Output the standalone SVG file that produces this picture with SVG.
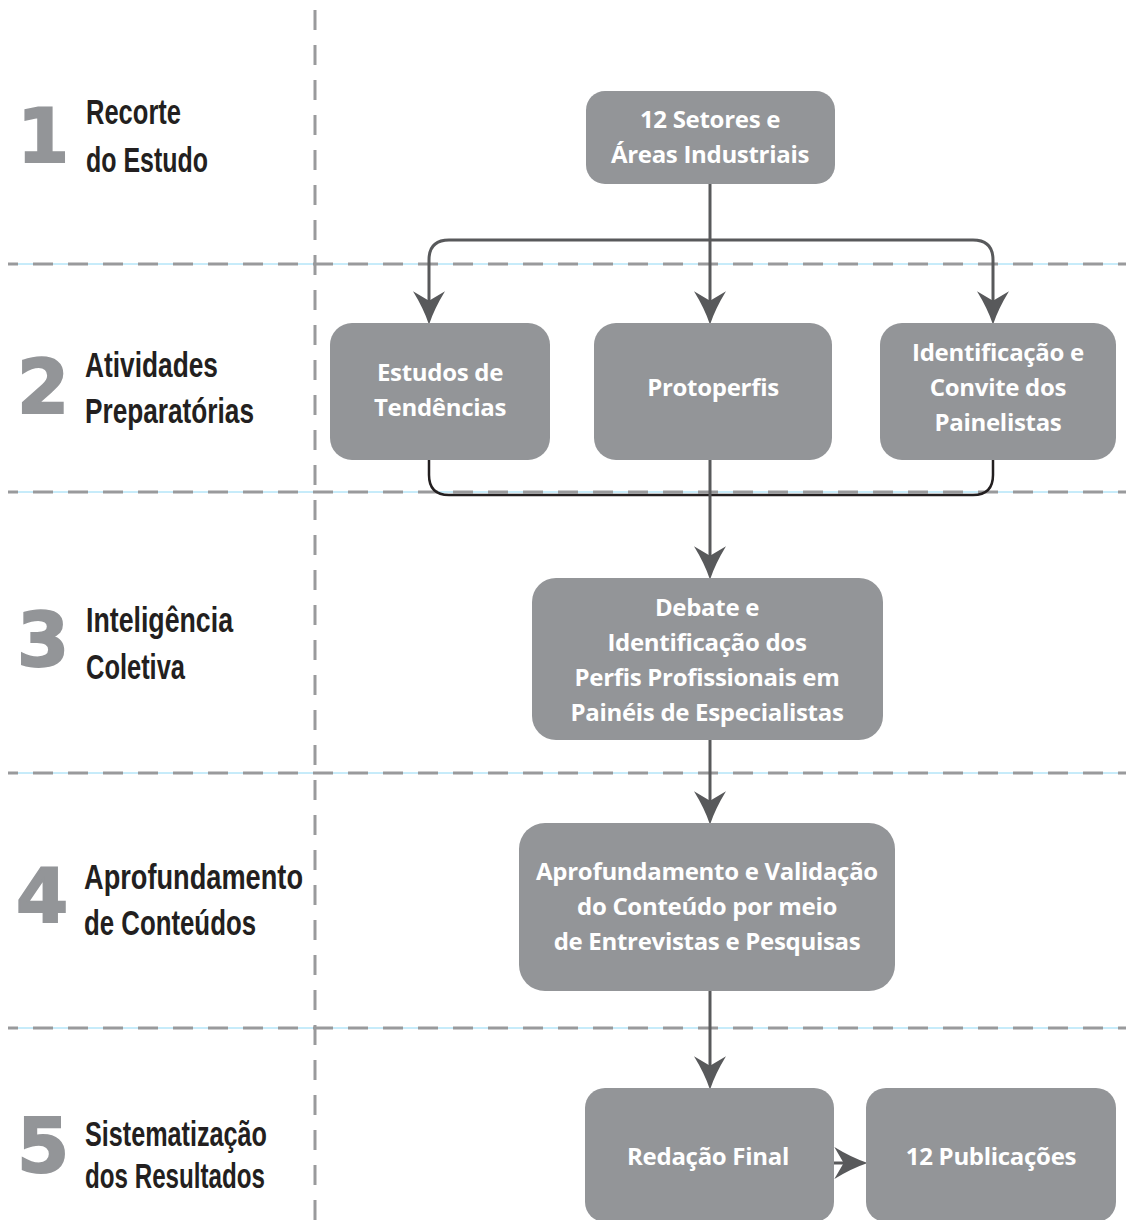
<svg xmlns="http://www.w3.org/2000/svg" width="1126" height="1220" viewBox="0 0 1126 1220">
<style>
.bg{fill:#ffffff}
.node{fill:#939598}
.nt{fill:#ffffff;font-family:"Open Sans","Liberation Sans",sans-serif;font-weight:700;font-size:24px;text-anchor:middle;letter-spacing:-0.3px}
.lbl{fill:#231f20;font-family:"Liberation Sans Narrow","Liberation Sans",sans-serif;font-weight:bold;font-size:35px}
.num{fill:#939598;stroke:#939598;stroke-width:2;font-family:"DejaVu Sans",sans-serif;font-weight:bold;font-size:75px;text-anchor:middle}
.sep{stroke:#999a9c;stroke-width:3;stroke-dasharray:20 15;fill:none}
.blue{stroke:#8fd8f5;stroke-width:1;fill:none}
.con{stroke:#58595b;stroke-width:3;fill:none}
.brk{stroke:#231f20;stroke-width:2.5;fill:none}
</style>
<defs>
<marker id="arr" markerUnits="userSpaceOnUse" markerWidth="40" markerHeight="40" viewBox="-20 -14 30 28" refX="0" refY="0" orient="auto-start-reverse">
<path d="M8,0 Q-4,-4 -17,-12 L-10,0 L-17,12 Q-4,4 8,0 Z" fill="#58595b"/>
</marker>
</defs>
<rect class="bg" x="0" y="0" width="1126" height="1220"/>

<g id="separators">
<line class="blue" x1="8" y1="264" x2="1126" y2="264"/>
<line class="sep" x1="8" y1="264" x2="1126" y2="264" stroke-dashoffset="10"/>
<line class="blue" x1="8" y1="492" x2="1126" y2="492"/>
<line class="sep" x1="8" y1="492" x2="1126" y2="492" stroke-dashoffset="10"/>
<line class="blue" x1="8" y1="773" x2="1126" y2="773"/>
<line class="sep" x1="8" y1="773" x2="1126" y2="773" stroke-dashoffset="10"/>
<line class="blue" x1="8" y1="1028" x2="1126" y2="1028"/>
<line class="sep" x1="8" y1="1028" x2="1126" y2="1028" stroke-dashoffset="10"/>
<line class="sep" x1="315" y1="10" x2="315" y2="1220"/>
</g>

<g id="stages">
<g id="stage1">
<text class="num" x="43" y="162">1</text>
<text class="lbl" x="86" y="124" textLength="95" lengthAdjust="spacingAndGlyphs">Recorte</text>
<text class="lbl" x="86" y="172" textLength="122" lengthAdjust="spacingAndGlyphs">do Estudo</text>
</g>
<g id="stage2">
<text class="num" x="43" y="413">2</text>
<text class="lbl" x="85" y="377" textLength="133" lengthAdjust="spacingAndGlyphs">Atividades</text>
<text class="lbl" x="85" y="423" textLength="169" lengthAdjust="spacingAndGlyphs">Preparatórias</text>
</g>
<g id="stage3">
<text class="num" x="43" y="666">3</text>
<text class="lbl" x="86" y="632" textLength="147" lengthAdjust="spacingAndGlyphs">Inteligência</text>
<text class="lbl" x="86" y="679" textLength="99" lengthAdjust="spacingAndGlyphs">Coletiva</text>
</g>
<g id="stage4">
<text class="num" x="42" y="922">4</text>
<text class="lbl" x="84" y="889" textLength="219" lengthAdjust="spacingAndGlyphs">Aprofundamento</text>
<text class="lbl" x="84" y="935" textLength="172" lengthAdjust="spacingAndGlyphs">de Conteúdos</text>
</g>
<g id="stage5">
<text class="num" x="43" y="1172">5</text>
<text class="lbl" x="85" y="1146" textLength="182" lengthAdjust="spacingAndGlyphs">Sistematização</text>
<text class="lbl" x="85" y="1188" textLength="180" lengthAdjust="spacingAndGlyphs">dos Resultados</text>
</g>
</g>

<g id="connectors">
<path class="con" d="M710,184 V314" marker-end="url(#arr)"/>
<path class="con" d="M429,314 V260 Q429,240 449,240 H973 Q993,240 993,260 V314" marker-start="url(#arr)" marker-end="url(#arr)"/>
<path class="brk" d="M429,460 V475 Q429,495 449,495 H973 Q993,495 993,475 V460"/>
<path class="con" d="M710,460 V569" marker-end="url(#arr)"/>
<path class="con" d="M710,740 V814" marker-end="url(#arr)"/>
<path class="con" d="M710,991 V1079" marker-end="url(#arr)"/>
<path class="con" d="M834,1163 H857" marker-end="url(#arr)"/>
</g>

<g id="n1">
<rect class="node" x="586" y="91" width="249" height="93" rx="19"/>
<text class="nt" x="710" y="128">12 Setores e</text>
<text class="nt" x="710" y="163">Áreas Industriais</text>
</g>
<g id="n2">
<rect class="node" x="330" y="323" width="220" height="137" rx="22"/>
<text class="nt" x="440" y="381">Estudos de</text>
<text class="nt" x="440" y="416">Tendências</text>
</g>
<g id="n3">
<rect class="node" x="594" y="323" width="238" height="137" rx="22"/>
<text class="nt" x="713" y="396">Protoperfis</text>
</g>
<g id="n4">
<rect class="node" x="880" y="323" width="236" height="137" rx="22"/>
<text class="nt" x="998" y="361">Identificação e</text>
<text class="nt" x="998" y="396">Convite dos</text>
<text class="nt" x="998" y="431">Painelistas</text>
</g>
<g id="n5">
<rect class="node" x="532" y="578" width="351" height="162" rx="24"/>
<text class="nt" x="707" y="616">Debate e</text>
<text class="nt" x="707" y="651">Identificação dos</text>
<text class="nt" x="707" y="686">Perfis Profissionais em</text>
<text class="nt" x="707" y="721">Painéis de Especialistas</text>
</g>
<g id="n6">
<rect class="node" x="519" y="823" width="376" height="168" rx="26"/>
<text class="nt" x="707" y="880">Aprofundamento e Validação</text>
<text class="nt" x="707" y="915">do Conteúdo  por meio</text>
<text class="nt" x="707" y="950">de Entrevistas e Pesquisas</text>
</g>
<g id="n7">
<rect class="node" x="585" y="1088" width="249" height="134" rx="20"/>
<text class="nt" x="708" y="1165">Redação Final</text>
</g>
<g id="n8">
<rect class="node" x="866" y="1088" width="250" height="134" rx="20"/>
<text class="nt" x="991" y="1165">12 Publicações</text>
</g>
</svg>
